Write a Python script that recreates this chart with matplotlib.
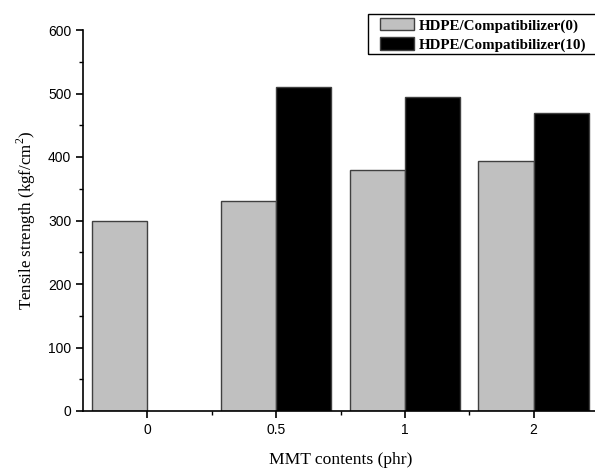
import numpy as np
import matplotlib
matplotlib.use("Agg")
import matplotlib.pyplot as plt
from matplotlib.ticker import MultipleLocator, FixedLocator
from matplotlib.patches import Rectangle

categories = ["0", "0.5", "1", "2"]
series_names = ["HDPE/Compatibilizer(0)", "HDPE/Compatibilizer(10)"]
compat0 = [300, 330, 380, 393]
compat10 = [np.nan, 510, 495, 470]
yticks = [0, 100, 200, 300, 400, 500, 600]

plt.rcParams["mathtext.fontset"] = "custom"
plt.rcParams["mathtext.rm"] = "Liberation Serif"

W, H = 595, 471
fig = plt.figure(figsize=(W / 100, H / 100), dpi=100)
left, right, bottom, top = 83, 598, 411, 30
ax = fig.add_axes([left / W, 1 - bottom / H, (right - left) / W, (bottom - top) / H])

x = np.arange(len(categories))
bw = 0.43
ax.bar(x - bw / 2, compat0, width=bw, color="#c0c0c0", edgecolor="#404040",
       linewidth=1.0, label=series_names[0])
ax.bar(x + bw / 2, compat10, width=bw, color="black", edgecolor="#404040",
       linewidth=1.0, label=series_names[1])

ax.set_xlim(-0.5, len(categories) - 0.5)
ax.set_ylim(0, 600)
ax.set_xticks(x)
ax.set_xticklabels(categories)
ax.xaxis.set_minor_locator(FixedLocator(x[:-1] + 0.5))
ax.set_yticks(yticks)
ax.yaxis.set_minor_locator(MultipleLocator(50))

for s in ["top", "right"]:
    ax.spines[s].set_visible(False)
for s in ["left", "bottom"]:
    ax.spines[s].set_linewidth(1.2)

ax.tick_params(axis="both", which="major", direction="out", length=5, width=1.2,
               labelsize=10)
ax.tick_params(axis="both", which="minor", direction="out", length=3, width=1.0)
for lab in ax.get_xticklabels() + ax.get_yticklabels():
    lab.set_fontfamily("Liberation Sans")

ax.set_xlabel("MMT contents (phr)", fontfamily="Liberation Serif", fontsize=12.6, labelpad=11)
ax.set_ylabel(r"Tensile strength (kgf/cm$^2$)", fontfamily="Liberation Serif",
              fontsize=12.2, labelpad=7)

leg = ax.legend(loc="upper left", bbox_to_anchor=(380 / W, 1 - 18 / H),
                bbox_transform=fig.transFigure, frameon=False,
                prop={"family": "Liberation Serif", "weight": "bold", "size": 10.8},
                handlelength=2.3, handleheight=0.9, borderpad=0,
                labelspacing=0.3, handletextpad=0.3, borderaxespad=0)

# legend frame (extends past the right edge, as in the reference)
fig.patches.append(Rectangle((368 / W, 1 - 54 / H), (610 - 368) / W, 40 / H,
                             transform=fig.transFigure, fill=False,
                             edgecolor="black", linewidth=1.0, zorder=5))

fig.savefig("out.png", dpi=100)
